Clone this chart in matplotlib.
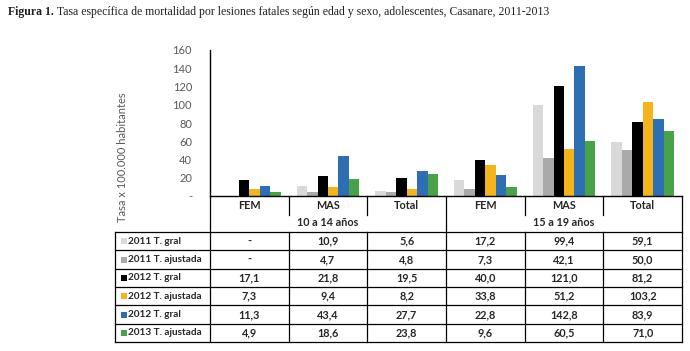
import numpy as np
import matplotlib.pyplot as plt

# data
categories = ["FEM", "MAS", "Total", "FEM", "MAS", "Total"]
groups = ["10 a 14 años", "15 a 19 años"]
series = ["2011 T. gral", "2011 T. ajustada", "2012 T. gral",
          "2012 T. ajustada", "2012 T. gral", "2013 T. ajustada"]
t2011_gral = [0, 10.9, 5.6, 17.2, 99.4, 59.1]
t2011_ajus = [0, 4.7, 4.8, 7.3, 42.1, 50.0]
t2012_gral = [17.1, 21.8, 19.5, 40.0, 121.0, 81.2]
t2012_ajus = [7.3, 9.4, 8.2, 33.8, 51.2, 103.2]
t2012_gral_b = [11.3, 43.4, 27.7, 22.8, 142.8, 83.9]
t2013_ajus = [4.9, 18.6, 23.8, 9.6, 60.5, 71.0]
values = [t2011_gral, t2011_ajus, t2012_gral, t2012_ajus, t2012_gral_b, t2013_ajus]
colors = ["#D9D9D9", "#AAAAAA", "#000000", "#F4B41A", "#2E6FB4", "#48A348"]
yticks = [0, 20, 40, 60, 80, 100, 120, 140, 160]

W, H = 690, 351
plt.rcParams['font.family'] = ['Lato', 'DejaVu Sans']
fig = plt.figure(figsize=(W / 100, H / 100), dpi=100)


def px(x0, y0, x1, y1):
    """pixel box (top-left origin) -> figure rect"""
    return [x0 / W, 1 - y1 / H, (x1 - x0) / W, (y1 - y0) / H]


# title
r = fig.canvas.get_renderer()
t1 = fig.text(8 / W, 1 - 12 / H, "Figura 1.", family="Liberation Serif",
              weight="bold", fontsize=8.5, va="center", color="#231f20")
bb = t1.get_window_extent(r)
fig.text((bb.x1 + 3) / W, 1 - 12 / H,
         "Tasa específica de mortalidad por lesiones fatales según edad y sexo, adolescentes, Casanare, 2011-2013",
         family="Liberation Serif", fontsize=8.5, va="center", color="#231f20")

# bar chart
X0, X1, YT, YB = 210, 682, 50, 196
ax = fig.add_axes(px(X0, YT, X1, YB))
n = len(series)
bw = 0.8 / n
x = np.arange(len(categories))
for i, (vals, c) in enumerate(zip(values, colors)):
    ax.bar(x - 0.4 + bw * (i + 0.5), vals, width=bw, color=c, linewidth=0)
ax.set_xlim(-0.5, len(categories) - 0.5)
ax.set_ylim(0, 160)
ax.set_yticks(yticks)
ax.set_yticklabels(["-" if v == 0 else str(v) for v in yticks],
                   fontsize=8, color="#595959")
ax.tick_params(axis="y", length=0, pad=13)
ax.set_xticks([])
for s in ["top", "right"]:
    ax.spines[s].set_visible(False)
ax.spines["left"].set_color("black")
ax.spines["bottom"].set_color("black")
ax.spines["left"].set_linewidth(1)
ax.spines["bottom"].set_linewidth(1)
fig.text(123 / W, 1 - 157 / H, "Tasa x 100.000 habitantes", rotation=90,
         ha="center", va="center", fontsize=8, color="#595959")

# data table
TL, TB = 115, 342
cw = (X1 - X0) / len(categories)
tx = fig.add_axes(px(TL, YB, X1, TB))
tx.set_xlim(-0.5 - (X0 - TL) / cw, len(categories) - 0.5)
tx.set_ylim(TB - YB, 0)
tx.axis("off")
lw = 0.9
rh = (TB - YB - 36) / n
rows_top = 36
left = -0.5 - (X0 - TL) / cw
right = len(categories) - 0.5
# horizontal lines
for k in range(n + 1):
    yy = rows_top + k * rh
    tx.plot([left, right], [yy, yy], color="black", lw=lw, clip_on=False)
# vertical lines
tx.plot([left, left], [rows_top, TB - YB], color="black", lw=lw, clip_on=False)
tx.plot([-0.5, -0.5], [0, TB - YB], color="black", lw=lw, clip_on=False)
tx.plot([right, right], [0, TB - YB], color="black", lw=lw, clip_on=False)
tx.plot([2.5, 2.5], [0, TB - YB], color="black", lw=lw, clip_on=False)
for b in [0.5, 1.5, 3.5, 4.5]:
    tx.plot([b, b], [0, 19], color="black", lw=lw, clip_on=False)
    tx.plot([b, b], [rows_top, TB - YB], color="black", lw=lw, clip_on=False)

txt = dict(fontsize=7.8, weight="bold", color="#262626", va="center")
for j, c in enumerate(categories):
    tx.text(j, 9.5, c, ha="center", **txt)
for g, gname in enumerate(groups):
    tx.text(3 * g + 1, 27, gname, ha="center", **txt)
for i, (name, vals, c) in enumerate(zip(series, values, colors)):
    yc = rows_top + (i + 0.5) * rh
    tx.scatter([left + 9 / cw], [yc], marker="s", s=22, color=c,
               linewidths=0, clip_on=False)
    tx.text(left + 13 / cw, yc, name, ha="left",
            **{**txt, "fontsize": 7.2})
    for j, v in enumerate(vals):
        s = "-" if v == 0 else f"{v:.1f}".replace(".", ",")
        tx.text(j, yc, s, ha="center", **txt)

fig.savefig("out.png", dpi=100)
